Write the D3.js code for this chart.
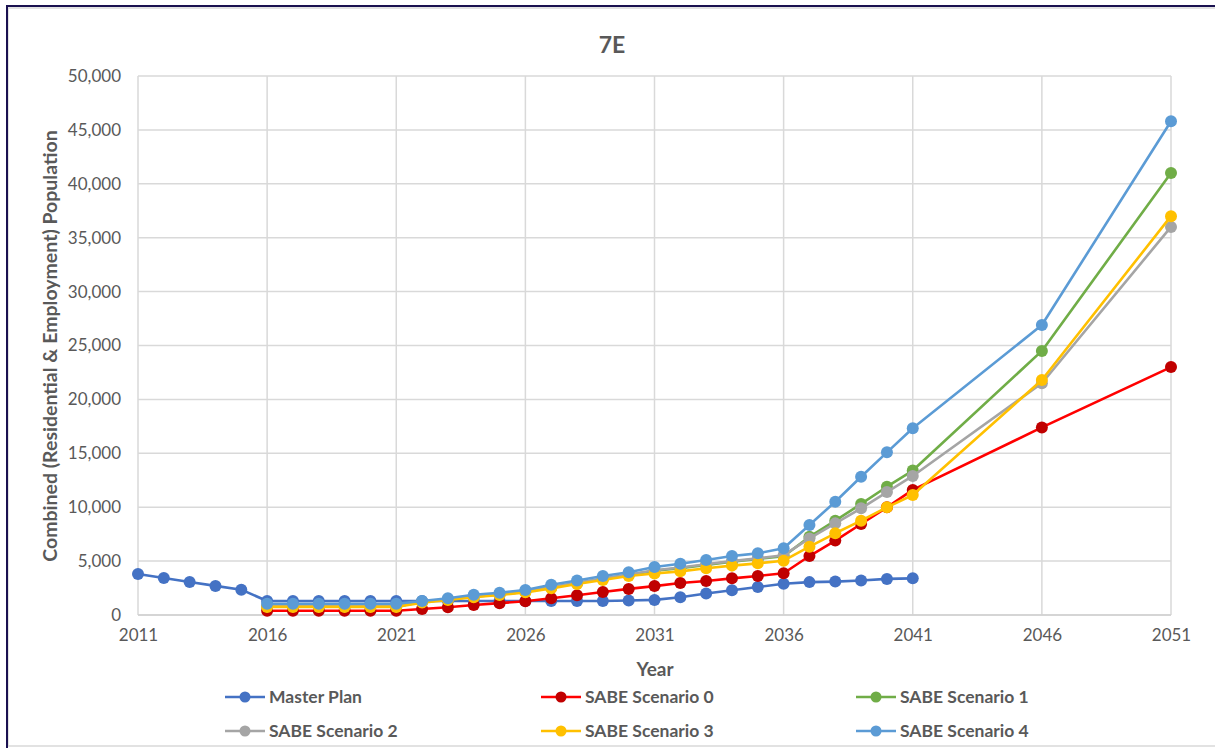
<!DOCTYPE html>
<html>
<head>
<meta charset="utf-8">
<script src="https://cdn.jsdelivr.net/npm/d3@7/dist/d3.min.js"></script>
<style>
  html, body { margin: 0; padding: 0; background: #fff; }
  svg { display: block; font-family: Lato, "Open Sans", sans-serif; }
</style>
</head>
<body>
<svg id="chart" width="1215" height="748"></svg>
<script>
// Years for the Master Plan series (annual, 2011–2041)
const masterYears = d3.range(2011, 2042);
// Years for the SABE scenarios (annual 2016–2041, then 2046 and 2051)
const scenarioYears = d3.range(2016, 2042).concat([2046, 2051]);

const masterPlan = [3800, 3430, 3060, 2700, 2350, 1300, 1300, 1300, 1300, 1300,
  1300, 1300, 1300, 1300, 1300, 1300, 1300, 1300, 1300, 1350,
  1400, 1650, 2000, 2300, 2600, 2900, 3050, 3100, 3200, 3350, 3400];

const scenario0 = [400, 400, 400, 400, 400, 400, 550, 720, 930, 1100,
  1280, 1550, 1830, 2130, 2420, 2680, 2970, 3150, 3400, 3620,
  3870, 5470, 6900, 8440, 9990, 11600, 17400, 23000];

const scenario1 = [800, 800, 800, 800, 800, 800, 1200, 1450, 1700, 1900,
  2150, 2550, 2950, 3350, 3700, 4100, 4350, 4650, 4950, 5200,
  5450, 7250, 8750, 10300, 11900, 13400, 24500, 41000];

const scenario2 = [800, 800, 800, 800, 800, 800, 1200, 1450, 1720, 1930,
  2180, 2600, 3000, 3380, 3750, 4150, 4400, 4700, 5000, 5250,
  5550, 7100, 8500, 9900, 11400, 12900, 21500, 36000];

const scenario3 = [750, 750, 750, 750, 750, 750, 1150, 1400, 1650, 1850,
  2100, 2470, 2870, 3250, 3620, 3850, 4050, 4330, 4580, 4790,
  5040, 6340, 7580, 8750, 9990, 11130, 21800, 37000];

const scenario4 = [1050, 1050, 1050, 1050, 1050, 1050, 1300, 1550, 1880, 2070,
  2320, 2800, 3200, 3620, 3970, 4450, 4750, 5100, 5480, 5720,
  6190, 8350, 10510, 12830, 15090, 17320, 26900, 45800];

const seriesNames = ["Master Plan", "SABE Scenario 0", "SABE Scenario 1",
  "SABE Scenario 2", "SABE Scenario 3", "SABE Scenario 4"];
const xTicks = [2011, 2016, 2021, 2026, 2031, 2036, 2041, 2046, 2051];
const yTicks = [0, 5000, 10000, 15000, 20000, 25000, 30000, 35000, 40000, 45000, 50000];

const series = [
  { name: seriesNames[0], years: masterYears,   values: masterPlan, line: "#4472C4", dot: "#4472C4" },
  { name: seriesNames[1], years: scenarioYears, values: scenario0,  line: "#FF0000", dot: "#C00000" },
  { name: seriesNames[2], years: scenarioYears, values: scenario1,  line: "#70AD47", dot: "#70AD47" },
  { name: seriesNames[3], years: scenarioYears, values: scenario2,  line: "#A5A5A5", dot: "#A5A5A5" },
  { name: seriesNames[4], years: scenarioYears, values: scenario3,  line: "#FFC000", dot: "#FFC000" },
  { name: seriesNames[5], years: scenarioYears, values: scenario4,  line: "#5B9BD5", dot: "#5B9BD5" }
];

const svg = d3.select("#chart");
const margin = { left: 138, right: 1171, top: 76, bottom: 615 };

// Frame of the chart area
svg.append("rect").attr("x", 8).attr("y", 8).attr("width", 1215).attr("height", 738)
  .attr("fill", "#fff").attr("stroke", "#d9d9d9").attr("stroke-width", 1.5);
svg.append("line").attr("x1", 7).attr("x2", 1215).attr("y1", 6).attr("y2", 6)
  .attr("stroke", "#1a1150").attr("stroke-width", 2);
svg.append("line").attr("x1", 7).attr("x2", 7).attr("y1", 5).attr("y2", 748)
  .attr("stroke", "#1a1150").attr("stroke-width", 2);

const x = d3.scaleLinear().domain([2011, 2051]).range([margin.left, margin.right]);
const y = d3.scaleLinear().domain([0, 50000]).range([margin.bottom, margin.top]);

// Gridlines
const grid = svg.append("g").attr("stroke", "#d9d9d9").attr("stroke-width", 1.5);
yTicks.forEach(t => grid.append("line")
  .attr("x1", margin.left).attr("x2", margin.right)
  .attr("y1", y(t)).attr("y2", y(t)));
xTicks.forEach(t => grid.append("line")
  .attr("x1", x(t)).attr("x2", x(t))
  .attr("y1", margin.top).attr("y2", margin.bottom));

// Axes (labels only, tick marks hidden)
const fmt = d3.format(",");
const yAxis = svg.append("g").attr("transform", `translate(${margin.left - 17},0)`)
  .call(d3.axisLeft(y).tickValues(yTicks).tickFormat(fmt).tickSize(0).tickPadding(0));
const xAxis = svg.append("g").attr("transform", `translate(0,${margin.bottom + 14})`)
  .call(d3.axisBottom(x).tickValues(xTicks).tickFormat(d3.format("d")).tickSize(0).tickPadding(0));
[yAxis, xAxis].forEach(a => {
  a.select(".domain").remove();
  a.selectAll("text").attr("fill", "#595959").style("font-size", "17px")
    .style("font-family", "Lato, sans-serif");
});
svg.append("line").attr("x1", margin.left).attr("x2", margin.right)
  .attr("y1", margin.bottom).attr("y2", margin.bottom)
  .attr("stroke", "#d0d0d0").attr("stroke-width", 1.5);

// Titles
svg.append("text").attr("x", 612).attr("y", 53).attr("text-anchor", "middle")
  .attr("fill", "#595959").style("font-size", "23px").style("font-weight", "bold").text("7E");
svg.append("text").attr("x", 655).attr("y", 676).attr("text-anchor", "middle")
  .attr("fill", "#595959").style("font-size", "19px").style("font-weight", "bold").text("Year");
svg.append("text").attr("transform", "translate(57,346) rotate(-90)").attr("text-anchor", "middle")
  .attr("fill", "#595959").style("font-size", "19.5px").style("font-weight", "bold")
  .text("Combined (Residential & Employment) Population");

// Lines and markers
const line = d3.line().x(d => x(d[0])).y(d => y(d[1]));
series.forEach(s => {
  const pts = s.years.map((yr, i) => [yr, s.values[i]]);
  const g = svg.append("g");
  g.append("path").datum(pts).attr("d", line).attr("fill", "none")
    .attr("stroke", s.line).attr("stroke-width", 2.6).attr("stroke-linejoin", "round");
  g.selectAll("circle").data(pts).join("circle")
    .attr("cx", d => x(d[0])).attr("cy", d => y(d[1])).attr("r", 6)
    .attr("fill", s.dot);
});

// Legend (3 columns x 2 rows)
const legendCols = [225, 541, 856];
const legendRows = [697, 731];
series.forEach((s, i) => {
  const lx = legendCols[i % 3], ly = legendRows[Math.floor(i / 3)];
  const g = svg.append("g").attr("transform", `translate(${lx},${ly})`);
  g.append("line").attr("x1", 0).attr("x2", 40).attr("y1", 0).attr("y2", 0)
    .attr("stroke", s.line).attr("stroke-width", 2.6);
  g.append("circle").attr("cx", 20).attr("cy", 0).attr("r", 5.5).attr("fill", s.dot);
  g.append("text").attr("x", 44).attr("y", 6).attr("fill", "#595959")
    .style("font-size", "17.5px").style("font-weight", "bold").text(s.name);
});
</script>
</body>
</html>
